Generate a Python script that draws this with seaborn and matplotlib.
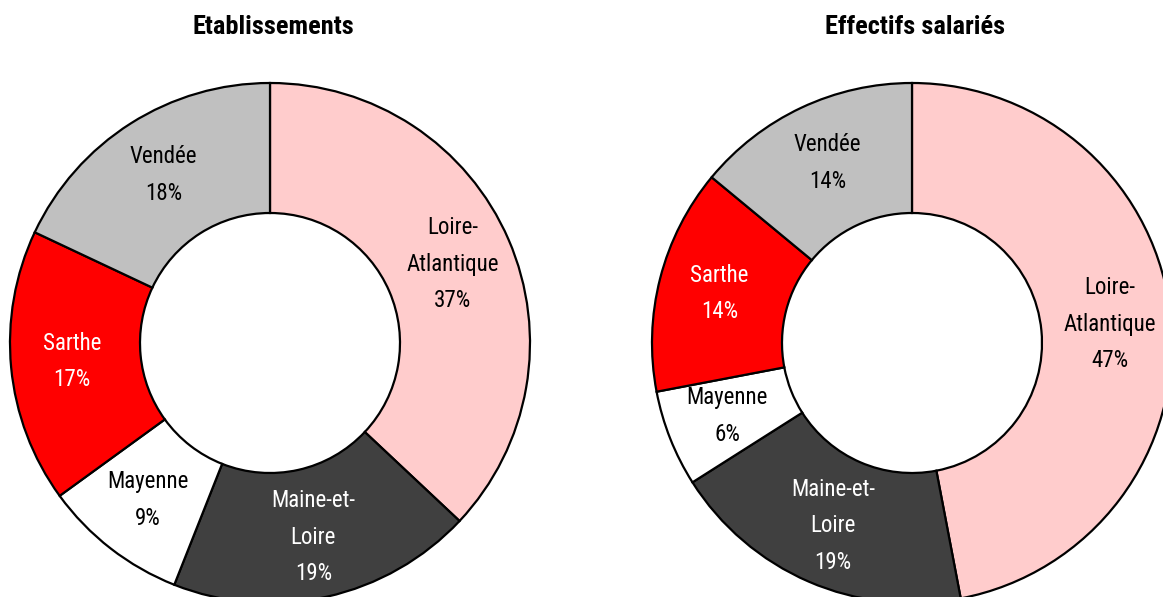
import numpy as np
import matplotlib
matplotlib.use("Agg")
import matplotlib.pyplot as plt
import seaborn as sns
from matplotlib import font_manager

regions = ["Loire-\nAtlantique", "Maine-et-\nLoire", "Mayenne", "Sarthe", "Vendée"]
etablissements = [37, 19, 9, 17, 18]
effectifs = [47, 19, 6, 14, 14]
titles = ["Etablissements", "Effectifs salariés"]
colors = ["#FFCCCC", "#404040", "#FFFFFF", "#FF0000", "#C0C0C0"]
text_colors = ["black", "white", "black", "white", "black"]

sns.set_theme(style="white")
fonts = font_manager.fontManager.ttflist
names = {f.name for f in fonts}
fam, stretch = "DejaVu Sans", "normal"
for cand in ["Liberation Sans Narrow", "Roboto Condensed", "Open Sans Condensed",
             "DejaVu Sans Condensed"]:
    if cand in names:
        fam = cand
        break
else:
    cond = [f for f in fonts if f.name == "DejaVu Sans" and
            str(f.stretch) in ("condensed", "semi-condensed", "500", "600")]
    if cond:
        stretch = "condensed"
plt.rcParams["font.family"] = [fam, "DejaVu Sans"]
plt.rcParams["font.stretch"] = stretch

W, H = 1163, 597
fig = plt.figure(figsize=(W / 100, H / 100), dpi=100)
ax = fig.add_axes([0, 0, 1, 1])

centers = [(270, H - 343), (912, H - 343)]
R = 260
for vals, title, c in zip([etablissements, effectifs], titles, centers):
    wedges, _ = ax.pie(vals, colors=colors, startangle=90, counterclock=False,
                       center=c, radius=R,
                       wedgeprops=dict(width=130, edgecolor="black", linewidth=1.6))
    for w, name, v, tc in zip(wedges, regions, vals, text_colors):
        ang = np.deg2rad((w.theta1 + w.theta2) / 2)
        x = c[0] + 0.765 * R * np.cos(ang)
        y = c[1] + 0.765 * R * np.sin(ang)
        ax.text(x, y, f"{name}\n{v}%", ha="center", va="center", color=tc,
                fontsize=16.5, linespacing=1.75)
    ax.text(c[0] + 3, H - 27, title, ha="center", va="center", fontsize=19,
            fontweight="bold", color="black")

ax.set_xlim(0, W)
ax.set_ylim(0, H)
ax.set_axis_off()
fig.savefig("out.png", dpi=100)
